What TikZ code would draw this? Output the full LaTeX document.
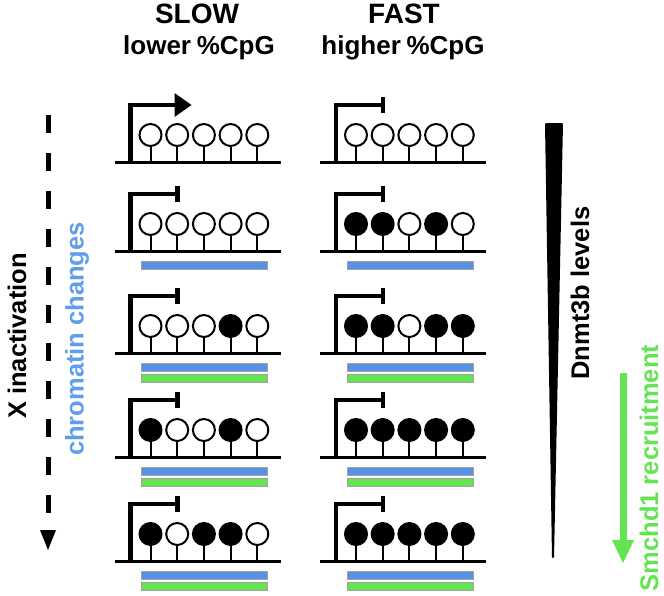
\documentclass[tikz,border=0pt]{standalone}
\usepackage{fontspec}
\setmainfont{Liberation Sans}
\definecolor{cblue}{RGB}{86,145,228}
\definecolor{ctxtblue}{RGB}{96,158,236}
\definecolor{cgreen}{RGB}{100,228,82}
\definecolor{cgrey}{RGB}{165,160,160}
\tikzset{
  hdr/.style={font=\bfseries\fontsize{28}{30}\selectfont, inner sep=0pt, anchor=base},
  subhdr/.style={font=\bfseries\fontsize{26}{30}\selectfont, inner sep=0pt, anchor=base},
  vlab/.style={font=\bfseries\fontsize{25.5}{30}\selectfont, rotate=90, inner sep=0pt},
  dnaline/.style={line width=3pt},
  promline/.style={line width=4.5pt, line join=miter},
  teebar/.style={line width=4.5pt},
  cpg/.style={circle, draw=black, line width=2pt, minimum size=22pt, inner sep=0pt},
  stemline/.style={line width=2pt},
  barbox/.style={draw=cgrey, line width=1pt},
}
% #1 name prefix, #2 promoter x, #3 baseline y, #4 five fills
\newcommand\drawgene[4]{%
  \begin{scope}[shift={(#2,#3)}]
    \coordinate (#1p) at (0,0);
    \coordinate (#1l) at (-16,0);
    \coordinate (#1r) at (150,0);
    \draw[promline] (#1p) -- (0,-57) -- (45,-57);
    \draw[dnaline] (#1l) -- (#1r);
    \foreach \f [count=\k from 0] in {#4} {
      \node[cpg, fill=\f] (#1c\k) at ({20+26.7*\k},-27) {};
      \coordinate (#1s\k) at ({20+26.7*\k},0);
      \draw[stemline] (#1c\k.south) -- (#1s\k);
    }
  \end{scope}}
\newcommand\tee[3]{%
  \begin{scope}[shift={(#2,#3)}]
    \coordinate (#1ta) at (47,-65);
    \coordinate (#1tb) at (47,-49);
    \draw[teebar] (#1ta) -- (#1tb);
  \end{scope}}
\newcommand\promarrow[3]{%
  \begin{scope}[shift={(#2,#3)}]
    \fill (44,-69) -- (61,-57) -- (44,-45) -- cycle;
  \end{scope}}
\newcommand\bars[4]{% #1 name, #2 x, #3 y, #4 number of bars
  \begin{scope}[shift={(#2,#3)}]
    \filldraw[barbox, fill=cblue] (11,10) rectangle (137,18);
    \ifnum#4>1 \filldraw[barbox, fill=cgreen] (11,21) rectangle (137,29);\fi
  \end{scope}}
\begin{document}
\begin{tikzpicture}[x=1pt,y=-1pt]
\useasboundingbox (0,0) rectangle (664,595);
% headers
\node[hdr] (slow) at (197,23) {SLOW};
\node[subhdr] (slowsub) at (199,54) {lower\hspace{0.22em}\%CpG};
\node[hdr] (fast) at (404,23) {FAST};
\node[subhdr] (fastsub) at (403,54) {higher\hspace{0.22em}\%CpG};
% slow column
\drawgene{sa}{130.5}{162}{white,white,white,white,white}
\promarrow{sa}{130.5}{162}
\drawgene{sb}{130.5}{251}{white,white,white,white,white}
\tee{sb}{130.5}{251}\bars{sb}{130.5}{251}{1}
\drawgene{sc}{130.5}{353}{white,white,white,black,white}
\tee{sc}{130.5}{353}\bars{sc}{130.5}{353}{2}
\drawgene{sd}{130.5}{457}{black,white,white,black,white}
\tee{sd}{130.5}{457}\bars{sd}{130.5}{457}{2}
\drawgene{se}{130.5}{561}{black,white,black,black,white}
\tee{se}{130.5}{561}\bars{se}{130.5}{561}{2}
% fast column
\drawgene{fa}{336}{162}{white,white,white,white,white}
\tee{fa}{336}{162}
\drawgene{fb}{336}{251}{black,black,white,black,white}
\tee{fb}{336}{251}\bars{fb}{336}{251}{1}
\drawgene{fc}{336}{353}{black,black,white,black,black}
\tee{fc}{336}{353}\bars{fc}{336}{353}{2}
\drawgene{fd}{336}{457}{black,black,black,black,black}
\tee{fd}{336}{457}\bars{fd}{336}{457}{2}
\drawgene{fe}{336}{561}{black,black,black,black,black}
\tee{fe}{336}{561}\bars{fe}{336}{561}{2}
% left side
\coordinate (xtop) at (48,115);
\coordinate (xend) at (48,513);
\draw[line width=5pt, dash pattern=on 18pt off 20pt] (xtop) -- (xend);
\fill (40,530) -- (56,530) -- (48,550) -- cycle;
\node[vlab] (xinact) at (17,336) {X inactivation};
\node[vlab, text=ctxtblue] (chrom) at (77,339) {chromatin changes};
% right side
\fill[rounded corners=1pt] (545,123) -- (563,123) -- (554,558) -- (552,558) -- cycle;
\node[vlab] (dnmt) at (580,293) {Dnmt3b levels};
\coordinate (gtop) at (623,373);
\coordinate (gend) at (623,542);
\draw[cgreen, line width=7pt] (gtop) -- (gend);
\fill[cgreen] (612,540) -- (634,540) -- (623,563) -- cycle;
\node[vlab, text=cgreen] (smchd) at (649,468) {Smchd1 recruitment};
\end{tikzpicture}
\end{document}
